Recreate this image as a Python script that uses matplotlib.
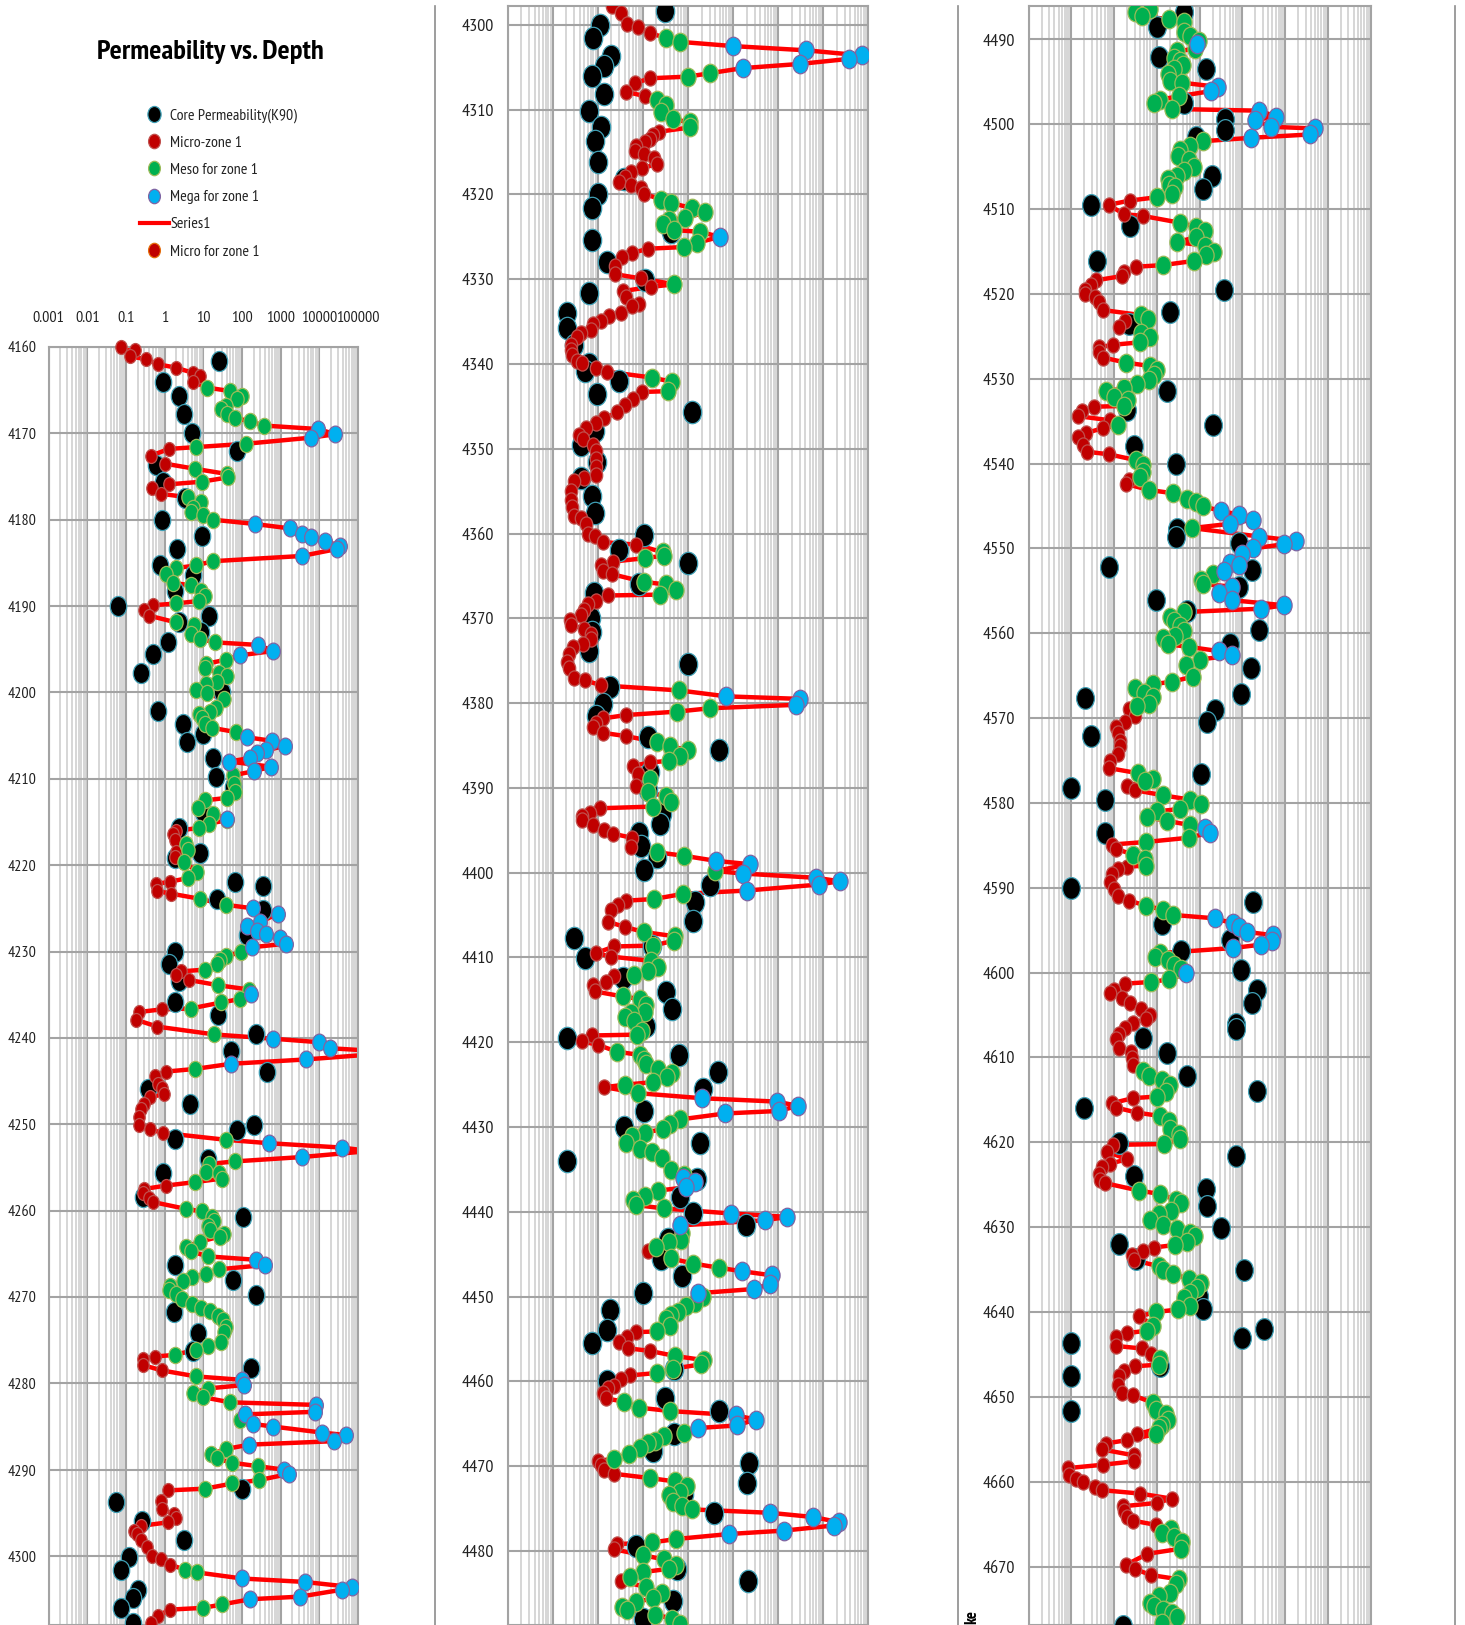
import numpy as np
from matplotlib import pyplot as plt
from matplotlib.lines import Line2D
from matplotlib.markers import MarkerStyle
from matplotlib.ticker import LogLocator, MultipleLocator, NullFormatter, NullLocator
from matplotlib.transforms import Affine2D

W, H = 1465, 1625
NARROW = ['PT Sans Narrow', 'Liberation Sans', 'DejaVu Sans']

x_ticks = [0.001, 0.01, 0.1, 1, 10, 100, 1000, 10000, 100000]
x_tick_labels = ['0.001', '0.01', '0.1', '1', '10', '100', '1000', '10000', '100000']

# (depth, permeability)
core1 = [(4161.6,25),(4164.1,.91),(4165.7,2.4),(4167.8,3.2),(4170,5.2),(4172,74),(4173.7,.58),(4175.6,.89),(4177.5,3.3),
         (4180,.84),(4181.9,9.4),(4183.4,2.1),(4185.2,.76),(4186.4,5.5),(4188.3,1.8),(4190,.063),(4191.2,14),(4191.9,2.4),
         (4193,8.5),(4194.2,1.2),(4195.6,.49),(4197.7,.24),(4200,31),(4202.1,.68),(4203.6,2.9),(4205.7,3.7),(4204.8,10),
         (4207.6,18),(4209.8,21),(4211,60),(4213.8,10),(4215.7,2.4),(4218.6,8),(4219.2,1.8),(4222,67),(4222.4,340),
         (4223.9,22),(4225.2,350),(4228.1,138),(4230,1.9),(4231.5,1.3),(4233.4,2.3),(4235.9,1.9),(4237.4,24),(4239.6,235),
         (4241.5,52),(4244,450),(4245.9,.38),(4247.7,4.5),(4250.7,76),(4250.1,210),(4251.7,1.8),(4254,13),(4255.6,.91),
         (4258.4,.28),(4260.7,108),(4266.3,1.8),(4268,59),(4269.8,225),(4271.7,1.7),(4274.2,7.3),(4276.2,5.5),(4278.2,175),
         (4292.2,102),(4293.7,.054),(4296,.26),(4298.1,3.2),(4300.1,.12),(4301.6,.076),(4303.9,.2),(4304.9,.15),(4306,.076),
         (4307.7,.15)]
micro1 = [(4160,.073),(4160.4,.17),(4161.1,.13),(4161.4,.32),(4162,.67),(4162.4,2),(4163,5.4),(4163.4,8.2),(4164,5.3),
          (4171.8,1.3),(4172.6,.43),(4173.5,1),(4175.9,1.3),(4176.3,.47),(4177,.8),(4189.9,.49),(4190.5,.29),(4191.1,.39),
          (4216,2),(4216.4,1.6),(4217.1,1.9),(4218.5,2),(4219.1,1.9),(4221.9,1.4),(4222.2,.59),(4223,.63),(4223.3,1.5),
          (4232.3,2.6),(4232.7,2),(4233.3,4.3),(4236.7,.83),(4237,.22),(4237.9,.18),(4238.7,.65),(4243.9,1.1),(4244.4,.55),
          (4245.3,.67),(4245.8,.87),(4246.5,.94),(4246.9,.41),(4247.6,.29),(4248.2,.24),(4249.2,.22),(4250.1,.22),(4250.6,.41),
          (4251,.91),(4257.1,1.1),(4257.5,.29),(4258,.27),(4258.5,.4),(4259,.49),(4276.9,.55),(4277.2,.28),(4277.9,.28),
          (4278.5,.83),(4292.4,1.2),(4293.6,.81),(4294.6,.85),(4295.1,1.7),(4295.6,2),(4296.1,1.2),(4296.5,.25),(4297.1,.16),
          (4297.4,.19),(4298.2,.25),(4299,.34),(4300,.46),(4300.4,.8),(4301,1.4),(4306.2,1.4),(4306.9,.67),(4307.7,.43)]
meso1 = [(4164.7,12.5),(4165.1,49),(4165.7,100),(4166,73),(4166.8,39),(4167.2,28),(4167.8,40),(4168.2,65),(4168.6,160),
         (4169.1,380),(4171.2,130),(4171.6,6.3),(4174.1,6),(4174.7,40),(4175.1,43),(4175.6,9),(4177.4,4),(4178,8.5),(4178.6,5.5),
         (4179.1,4.9),(4179.4,9.8),(4180,18),(4184.8,18),(4185.3,6.3),(4185.6,2),(4186.3,1.1),(4187.3,1.6),(4187.6,4.7),
         (4188.3,8.5),(4188.8,11),(4189.4,7.8),(4189.7,2),(4191.9,2),(4192.2,5.7),(4193.2,4.9),(4193.8,8.2),(4194.2,20),
         (4196.2,39),(4196.7,11.5),(4197.2,11),(4197.7,25),(4198.1,42),(4198.8,22),(4199,11.5),(4199.7,6.3),(4200.1,12.6),
         (4200.8,34),(4201.8,21),(4202.3,15),(4202.5,7.8),(4203,9.3),(4203.6,11),(4204.1,17),(4204.6,71),(4209.6,59),
         (4210.6,62),(4211.5,67),(4212.2,42),(4212.5,11),(4213.4,7.3),(4214.1,18),(4214.8,40),(4215.2,14),(4215.7,7.8),
         (4217.6,3.5),(4218.3,4),(4219.6,3.2),(4220.8,7),(4221.5,4),(4223.9,8.2),(4224.6,39),(4230.1,96),(4230.5,39),(4231,27),
         (4231.5,23),(4232.1,11),(4233.9,24),(4234.4,150),(4235.5,89),(4235.9,29),(4236.6,4.7),(4239.6,19),(4243.6,6),
         (4251.8,38),(4254.3,67),(4254.6,14),(4255.5,12),(4255.7,26),(4256.3,30),(4256.7,6),(4259.8,3.5),(4260.1,9),(4260.7,17),
         (4261.2,19),(4261.8,13),(4262.3,15),(4262.7,35),(4263,27),(4263.6,8.2),(4264.2,3.5),(4264.7,4.7),(4265.3,13),
         (4266.8,25),(4267.3,12),(4267.7,5.1),(4268.2,2.9),(4268.7,1.4),(4269.2,1.3),(4269.6,2),(4270.2,2.8),(4270.8,5),
         (4271.3,8.5),(4271.6,15),(4272.2,24),(4272.7,33),(4273.5,39),(4274,35),(4275.2,28),(4275.7,13),(4276.1,6.3),(4276.7,1.9),
         (4279.2,6.5),(4280.6,13),(4281.1,5.4),(4281.6,9.8),(4282.2,49),(4284.3,89),(4287.6,39),(4288.2,16),(4288.7,22),
         (4289.2,56),(4289.6,257),(4291.2,280),(4291.6,56),(4292.2,11),(4301.6,3.4),(4301.9,7),(4305.6,31),(4306,10)]
mega1 = [(4169.5,9300),(4170.1,26000),(4170.5,6000),(4180.5,220),(4181,1700),(4181.6,3600),(4182,6000),(4182.5,14000),
         (4183,34000),(4183.4,28000),(4184.2,3500),(4194.5,260),(4195.2,650),(4195.7,89),(4205.2,138),(4205.6,590),(4206.2,1260),
         (4206.7,420),(4207,245),(4207.6,160),(4208,46),(4208.6,570),(4209.1,210),(4214.6,42),(4225,195),(4225.6,870),
         (4226.6,290),(4227.1,138),(4227.6,250),(4228,410),(4228.4,960),(4229.1,1350),(4229.5,185),(4234.9,166),(4240.1,650),
         (4240.5,9800),(4241.2,19000),(4241.5,250000),(4241.9,250000),(4242.5,4400),(4243,52),(4252.2,510),(4252.7,38000),
         (4253.1,200000),(4253.8,3500),(4265.7,235),(4266.3,390),(4279.6,100),(4280.2,110),(4282.5,8000),(4283.3,7600),
         (4283.6,117),(4284.7,190),(4285,620),(4285.7,11500),(4286,50000),(4286.7,24000),(4287.1,155),(4290,1230),(4290.5,1600),
         (4302.6,100),(4303,4200),(4303.6,71000),(4303.9,38000),(4304.7,3200),(4305,165)]

core2 = [(4298.4,3.1),(4300,.11),(4301.5,.078),(4303.7,.2),(4304.8,.14),(4306,.076),(4308.1,.14),(4310.2,.063),(4312,.12),
         (4313.7,.085),(4316.2,.1),(4318.2,.39),(4320,.1),(4321.6,.076),(4324.4,4.3),(4325.4,.076),(4328,.16),(4330.1,1.1),
         (4331.6,.063),(4334,.021),(4335.7,.021),(4337.7,.03),(4340,.063),(4340.8,.051),(4342,.3),(4343.5,.094),(4345.7,12),
         (4347.9,.085),(4349.6,.042),(4351.6,.094),(4353.5,.042),(4355.6,.076),(4357.6,.085),(4360.2,1.05),(4361.9,.3),
         (4363.5,10),(4366,.81),(4367,.082),(4369.9,.069),(4371.6,.076),(4373.8,.063),(4375.4,10),(4378.1,.19),(4380.1,.13),
         (4381.5,.093),(4384,1.3),(4385.5,49),(4388.1,1.4),(4390.2,1.3),(4393.1,2.6),(4394.3,2.4),(4395.3,.83),(4396.8,.92),
         (4398.1,2.1),(4399.7,1.05),(4401.5,30),(4403.5,14),(4405.7,13),(4407.7,.03),(4408.6,1.6),(4410.1,.052),(4412.4,.36),
         (4414.1,3.3),(4416.1,4.5),(4418.1,1.15),(4419.5,.021),(4421.5,6.4),(4423.5,46),(4425.5,21),(4428.1,1.05),(4430,.38),
         (4431.9,18),(4434,.021),(4436.1,15.5),(4438.2,6.6),(4440.1,13),(4441.6,195),(4443.2,3.6),(4445.6,2.5),(4447.6,7.5),
         (4449.6,.98),(4451.6,.19),(4453.9,.16),(4455.5,.076),(4458.5,4.9),(4459.9,.16),(4462,3.1),(4463.5,49),(4466.2,5),
         (4468.2,1.7),(4469.6,230),(4472,200),(4473.3,8.1),(4475.5,37),(4479.4,.69),(4482.1,5.6),(4483.5,215),(4485.9,4.7),(4488,1)]
micro2 = [(4297.8,.21),(4298.6,.32),(4299.9,.45),(4300.3,.78),(4301,1.4),(4306.3,1.4),(4306.9,.66),(4307.9,.43),(4308.4,1.1),
          (4312.6,2.3),(4313,1.7),(4313.5,1.4),(4313.8,1.1),(4314.3,.69),(4314.9,.66),(4315.2,1.05),(4315.7,1.8),(4316.4,2.1),
          (4316.9,.95),(4317.3,.54),(4317.9,.4),(4318.5,.29),(4318.9,.54),(4319.2,.89),(4319.9,1.05),(4326.4,1.3),(4326.9,.58),
          (4327.4,.35),(4328.4,.24),(4329.4,.24),(4329.9,.89),(4330.9,1.5),(4331.4,.36),(4332.1,.42),(4332.9,.83),(4333.2,.56),
          (4334,.32),(4334.3,.18),(4334.9,.12),(4335.3,.078),(4336,.069),(4336.4,.043),(4336.8,.034),(4337.7,.026),(4338.3,.025),
          (4338.9,.027),(4339.7,.034),(4339.9,.045),(4340.5,.089),(4340.9,.16),(4343.3,.93),(4344.1,.6),(4344.8,.4),(4345.7,.27),
          (4346.4,.14),(4346.9,.089),(4347.5,.055),(4348.4,.038),(4348.9,.047),(4349.5,.078),(4350.3,.093),(4351.2,.089),
          (4352.2,.093),(4353.1,.089),(4353.4,.049),(4353.8,.03),(4355,.026),(4356,.026),(4356.9,.027),(4357.9,.03),(4358.2,.042),
          (4358.9,.054),(4360,.059),(4360.3,.085),(4361,.13),(4361.3,.69),(4363.3,.22),(4363.7,.12),(4364.4,.13),(4364.8,.21),
          (4367.3,.17),(4368,.093),(4368.3,.059),(4369,.049),(4369.6,.042),(4370.2,.024),(4370.8,.026),(4371.2,.049),(4371.8,.071),
          (4372.4,.069),(4373,.047),(4373.4,.028),(4374.2,.023),(4375.2,.021),(4375.9,.023),(4377,.029),(4377.3,.051),(4377.9,.12),
          (4381.4,.43),(4381.8,.13),(4382.3,.089),(4382.8,.079),(4383.5,.13),(4383.9,.43),(4387,1.4),(4387.4,.61),(4388.4,.78),
          (4389.8,.69),(4392.4,.11),(4392.9,.066),(4393.3,.044),(4393.8,.044),(4394.4,.08),(4395,.14),(4395.4,.22),(4395.9,.58),
          (4397,.55),(4403.3,.43),(4403.8,.28),(4404.4,.2),(4405.8,.17),(4406.4,.4),(4408.7,.23),(4409.5,.089),(4409.9,.2),
          (4412.2,.23),(4412.9,.15),(4413.3,.079),(4414,.085),(4419.2,.076),(4419.9,.044),(4420.3,.1),(4425.3,.14),(4444.6,1.3),
          (4454.2,.69),(4454.8,.45),(4455.3,.29),(4456.1,.47),(4456.4,1.4),(4459.3,.51),(4459.7,.33),(4460.5,.23),(4460.8,.17),
          (4461.4,.13),(4462,.15),(4469.4,.1),(4469.9,.12),(4470.5,.14),(4470.9,.23),(4479.2,.26),(4479.8,.23),(4483.5,.32)]
meso2 = [(4301.5,3.3),(4302,6.7),(4305.7,31),(4306.1,10),(4308.9,2.1),(4309.4,3.3),(4310.3,2.5),(4311.1,4.6),(4311.5,11),
         (4312.1,11),(4320.6,2.5),(4321,4.2),(4321.6,12),(4322.1,24),(4322.8,8.8),(4323,3.7),(4323.5,2.8),(4324.2,5),(4324.4,18),
         (4325.7,16),(4326.2,8.1),(4330.6,5),(4341.6,1.6),(4342.1,4.5),(4343.2,3.6),(4362.2,2.8),(4362.6,2.9),(4362.9,1.1),
         (4365.7,1.05),(4366,3.2),(4366.7,5.3),(4367.2,2.4),(4378.5,6.4),(4380.6,31),(4381,5.7),(4384.6,2.1),(4385.1,4),(4385.5,9.8),
         (4386.2,6.6),(4386.8,3.8),(4388.9,1.4),(4390.5,1.3),(4391,3.3),(4391.7,4.2),(4392.2,1.7),(4397.6,2.1),(4398,8.1),
         (4399.8,40),(4402.5,7.6),(4403.1,1.8),(4407,1.05),(4407.5,5.1),(4408,5),(4408.6,1.7),(4410.4,1.5),(4411.1,2.2),(4411.6,1.3),
         (4412.1,.64),(4414.6,.36),(4414.9,.85),(4415.6,1.2),(4416.4,1.1),(4416.6,.55),(4417,.4),(4417.5,.63),(4418.7,.97),
         (4419.1,.75),(4421.1,.26),(4421.5,.85),(4422.1,1.05),(4422.6,1.2),(4423.2,2.2),(4423.6,4.5),(4424.1,3.5),(4424.7,1.7),
         (4425,.4),(4426,.78),(4429.1,6.8),(4429.6,4),(4430.2,2.8),(4430.7,1.1),(4431.1,.58),(4431.9,.43),(4432.6,.85),(4433,1.6),
         (4433.6,2.6),(4435.1,4.1),(4435.6,8.1),(4437.5,2.2),(4438.1,1.1),(4438.6,.61),(4439.2,.69),(4439.6,2.9),(4442.5,7.5),
         (4443.3,7.1),(4443.6,3.7),(4444.1,2),(4445.5,4.2),(4446.1,13),(4446.6,49),(4450,21),(4450.7,14),(4451.1,9.1),(4451.8,6),
         (4452.2,4.1),(4452.6,3.2),(4453.5,3.9),(4454.1,2.1),(4457,5.1),(4457.5,23),(4458,19),(4458.5,4.7),(4459,2.1),(4462.4,.38),
         (4463.1,.83),(4463.5,4),(4466.1,8.1),(4466.5,3),(4467,1.9),(4467.3,1.3),(4467.9,.85),(4468.6,.5),(4469.1,.23),(4471.4,1.4),
         (4471.8,5.1),(4472.3,9.3),(4473.1,6.8),(4473.4,3.8),(4474.2,4.7),(4474.7,7.5),(4475.1,12),(4478.6,5.3),(4479,1.6),
         (4480.5,.98),(4481,3),(4481.6,5.3),(4482.1,3.8),(4482.5,1),(4483.1,.51),(4484.3,1.2),(4485,2.6),(4485.6,1.7),(4486,.72),
         (4486.6,.35),(4487,.45),(4487.5,1.9),(4488,4.5),(4488.6,6.5)]
mega2 = [(4302.5,100),(4303,4200),(4303.6,71000),(4304,38000),(4304.6,3100),(4305.1,162),(4325,51),(4379.2,71),(4379.5,3100),
         (4380.2,2500),(4398.6,41),(4399,235),(4400.1,166),(4400.6,6800),(4401,23000),(4401.4,8000),(4402.1,205),(4426.6,20),
         (4427,930),(4427.5,2750),(4428.1,1050),(4428.4,66),(4436,7.7),(4436.5,14),(4437.1,9.1),(4440.2,91),(4440.6,1600),(4441,500),
         (4441.6,6.7),(4447,155),(4447.5,740),(4448.5,650),(4449.1,295),(4449.6,17),(4464,115),(4464.5,315),(4465.2,120),(4465.5,17),
         (4475.5,650),(4476,6000),(4476.6,22000),(4477,17000),(4477.6,1350),(4478,83)]

core3 = [(4486.8,4.4),(4488.5,1),(4492.1,1.1),(4493.5,14),(4497.5,4.2),(4499.4,40),(4500.7,40),(4501.5,8.3),(4506.1,19),(4507.6,12),
         (4509.5,.029),(4512,.24),(4516.1,.04),(4519.5,37),(4522.1,2),(4523.5,.22),(4531.5,1.7),(4533.7,.2),(4535.5,20),(4537.9,.29),
         (4540,2.8),(4547.7,2.9),(4548.7,2.8),(4549.3,81),(4552.2,.074),(4552.6,166),(4554.6,81),(4556.1,.96),(4557.4,5),(4559.6,240),
         (4561.3,50),(4564.1,158),(4567.2,92),(4567.6,.021),(4569.1,23),(4570.4,15),(4572.1,.029),(4576.6,11),(4578.2,.01),(4579.7,.06),
         (4583.5,.06),(4590,.01),(4591.7,178),(4594.3,1.3),(4596.2,50),(4597.5,3.6),(4599.7,92),(4602,218),(4603.6,170),(4606.1,69),
         (4606.7,69),(4607.7,.46),(4609.5,1.7),(4612.2,5.1),(4614,224),(4616,.02),(4620.1,.13),(4621.6,71),(4624,.29),(4625.5,14),
         (4627.5,15),(4630.1,31),(4632,.13),(4633.7,.33),(4635.1,110),(4638.1,9.8),(4639.6,12),(4642,320),(4643.1,97),(4643.7,.01),
         (4646.4,1.15),(4647.5,.01),(4651.7,.01),(4677,.16)]
micro3 = [(4509,.23),(4509.5,.074),(4510.6,.17),(4510.8,.46),(4516.8,.32),(4517.4,.17),(4517.9,.15),(4518.4,.037),(4518.9,.028),
          (4519.5,.021),(4520,.021),(4520.4,.035),(4521,.045),(4521.9,.055),(4523.2,.18),(4523.9,.13),(4526,.092),(4526.3,.044),
          (4526.9,.044),(4527.5,.055),(4533.3,.033),(4533.8,.018),(4534.4,.014),(4534.9,.081),(4535.8,.056),(4536.4,.022),(4536.9,.014),
          (4537.8,.019),(4538.6,.023),(4538.9,.074),(4541.9,.22),(4542.4,.19),(4568.9,.22),(4569.7,.3),(4570.5,.18),(4571,.11),
          (4571.8,.12),(4572.7,.14),(4573.3,.14),(4574.2,.12),(4575,.081),(4575.9,.077),(4578,.2),(4578.5,.31),(4584.9,.089),(4585.4,.11),
          (4587.5,.2),(4587.8,.12),(4588.4,.089),(4589.3,.081),(4590.1,.1),(4591,.12),(4591.5,.22),(4601.3,.18),(4602,.1),(4602.4,.081),
          (4603,.15),(4603.6,.24),(4604.3,.43),(4605,.67),(4605.5,.55),(4605.9,.28),(4606.5,.18),(4607.2,.13),(4607.8,.11),(4608.9,.13),
          (4609.4,.25),(4610.1,.26),(4610.9,.27),(4614.8,.27),(4615.4,.087),(4615.9,.11),(4616.5,.34),(4620.3,.094),(4621.1,.068),
          (4622,.2),(4622.5,.081),(4622.9,.052),(4623.7,.043),(4624.5,.046),(4624.8,.06),(4632.4,.85),(4632.8,.46),(4633.3,.26),
          (4633.9,.29),(4640.5,.39),(4642.5,.2),(4642.9,.11),(4644,.11),(4644.3,.44),(4645,.71),(4646.4,.31),(4647,.17),(4647.5,.13),
          (4648.6,.12),(4649.5,.15),(4649.8,.27),(4654.4,.35),(4655.1,.2),(4655.5,.064),(4656.2,.052),(4656.9,.29),(4657.6,.29),
          (4658,.055),(4658.4,.0083),(4659.2,.0089),(4659.7,.013),(4660,.019),(4660.6,.035),(4661,.052),(4661.4,.4),(4662,2.2),
          (4662.5,1),(4662.9,.16),(4663.5,.17),(4664.2,.2),(4664.6,.28),(4665.1,.96),(4668.5,.6),(4669.8,.19),(4670.3,.31),(4671,.71)]
meso3 = [(4486.4,.7),(4486.8,.31),(4487.3,.45),(4487.6,1.9),(4488,4.4),(4489.1,4.4),(4489.6,6),(4490.2,9.4),(4491.1,7.9),(4491.4,2.9),
         (4492.2,2.5),(4492.5,3.5),(4493,4.1),(4493.5,2.5),(4494.1,1.8),(4494.9,2),(4495.1,3.8),(4496.7,3.2),(4497.1,1.2),(4497.5,.85),
         (4498.2,2.3),(4502,12),(4502.6,5.9),(4503,3.5),(4503.7,3.1),(4504.2,5.5),(4505,7.5),(4505.5,4.4),(4506.1,2.9),(4506.4,1.8),
         (4507.2,1.9),(4507.4,2.7),(4508.2,2.3),(4508.6,1),(4511.6,3.4),(4512.1,8.3),(4512.6,13),(4513.3,8.3),(4513.9,2.9),(4514.3,13),
         (4515.1,22),(4515.4,14),(4516.1,7.5),(4516.6,1.4),(4522.5,.43),(4523,.62),(4524.6,.43),(4525.1,.67),(4525.7,.41),(4528.1,.19),
         (4528.5,.7),(4529,1),(4529.5,.87),(4530.2,.64),(4530.6,.35),(4531.1,.17),(4531.5,.065),(4532.1,.1),(4532.5,.21),(4533.2,.17),
         (4535.5,.12),(4539.6,.33),(4540.2,.47),(4541,.47),(4541.6,.41),(4543.1,.64),(4543.5,2.4),(4544.2,5),(4544.5,8.3),(4545,12),
         (4547.6,6.6),(4553,20),(4553.7,11),(4554.2,12),(4557.5,4.4),(4558.1,2),(4558.6,2.5),(4559.2,3.5),(4559.7,4.4),(4560.3,2.6),
         (4560.6,1.4),(4561.3,1.8),(4561.6,5.5),(4563.1,10),(4563.7,4.9),(4565.1,7),(4565.7,2.3),(4566,.81),(4566.5,.3),(4567,.5),
         (4567.5,.81),(4568.3,.64),(4568.6,.34),(4576.5,.37),(4577.2,.81),(4577.4,.52),(4579.1,1.4),(4579.6,5.8),(4580.1,11),(4580.7,3.5),
         (4581,1),(4581.7,.6),(4582.1,1.7),(4582.6,5.8),(4584.1,5.5),(4584.6,.55),(4586.1,.28),(4586.6,.53),(4587.4,.55),(4592.1,.55),
         (4592.6,1.4),(4593.2,2.4),(4597.7,1.2),(4598.1,.88),(4598.5,1.8),(4599.1,2.5),(4599.6,3.6),(4600.8,1.9),(4601.1,.71),(4611.6,.46),
         (4612.2,.64),(4612.6,1.3),(4613.2,2),(4614.1,1.6),(4614.6,1),(4616.9,1.2),(4617.5,1.9),(4618.4,2),(4619,3.2),(4619.6,3.5),
         (4620.2,1.5),(4625.7,.39),(4626.1,1.2),(4626.8,2.8),(4627.2,3.6),(4628.1,2.1),(4628.5,1.1),(4629.2,.7),(4629.7,1.4),(4630.2,3),
         (4630.7,5.8),(4631,7.9),(4631.7,5),(4632.1,2.6),(4634.6,1.1),(4635.1,1.4),(4635.5,2.4),(4636.1,5.5),(4636.6,11),(4637.2,8.7),
         (4637.8,6),(4638.4,4.4),(4639.3,6),(4639.7,3.1),(4640,.96),(4641.6,.81),(4642.2,.57),(4645.5,1.2),(4646.2,1.1),(4650.7,.81),
         (4651.5,.95),(4652,1.6),(4652.7,1.8),(4653.3,1.3),(4653.7,1.1),(4654.4,.95),(4665.6,2.1),(4666.1,1.3),(4666.5,2.5),(4667.1,3.8),
         (4667.9,3.6),(4671.5,3.2),(4672.1,2.8),(4673.1,2),(4673.5,1.1),(4674.3,.67),(4674.7,.84),(4675.1,1.4),(4675.5,2.2),(4675.9,2.9),
         (4676.7,1.3)]
mega3 = [(4490.5,8.8),(4495.6,27),(4496.1,18),(4498.4,245),(4499.1,620),(4499.5,200),(4500.3,460),(4500.5,4900),(4501.2,3900),(4501.6,158),
         (4545.6,31),(4546,85),(4546.6,175),(4547.1,50),(4548.6,250),(4549.1,1750),(4549.5,950),(4550,175),(4550.6,100),(4551.7,50),
         (4552,81),(4552.7,37),(4554.5,57),(4555.2,28),(4556.1,57),(4556.7,950),(4557.1,270),(4562.1,28),(4562.6,57),(4583,13),(4583.5,17),
         (4593.6,23),(4594.2,60),(4594.6,85),(4595.2,130),(4595.6,530),(4596.3,490),(4596.7,270),(4597.1,60),(4600.1,4.9)]

legend_labels = ['Core Permeability(K90)', 'Micro-zone 1', 'Meso for zone 1', 'Mega for zone 1', 'Series1', 'Micro for zone 1']

BLACK = ('#000000', '#3f9fb5')
RED = ('#c00000', '#c0504d')
GREEN = ('#00b050', '#9bbb59')
BLUE = ('#00b0f0', '#8064a2')
LINE = '#ff0000'
oval = MarkerStyle('o', transform=Affine2D().scale(1, 1.22))


def add_panel(left, right, top, bottom, y_top, y_bottom):
    ax = fig.add_axes([left / W, 1 - bottom / H, (right - left) / W, (bottom - top) / H])
    ax.set_xscale('log')
    ax.set_xlim(0.001, 100000)
    ax.set_ylim(y_bottom, y_top)
    ax.xaxis.set_major_locator(LogLocator(base=10, numticks=12))
    ax.xaxis.set_minor_locator(LogLocator(base=10, subs=np.arange(2, 10), numticks=12))
    ax.xaxis.set_minor_formatter(NullFormatter())
    ax.yaxis.set_major_locator(MultipleLocator(10))
    ax.yaxis.set_minor_locator(NullLocator())
    ax.grid(True, which='minor', axis='x', color='#d0d0d0', lw=1.2, zorder=0)
    ax.grid(True, which='major', axis='both', color='#a3a3a3', lw=1.5, zorder=0.5)
    ax.set_axisbelow(True)
    for s in ax.spines.values():
        s.set_color('#a3a3a3')
        s.set_linewidth(1.5)
    ax.tick_params(which='both', length=0)
    return ax


def draw(ax, core, micro, meso, mega, sizes, clip_micro=True):
    model = np.array(sorted(micro + meso + mega))
    ax.plot(model[:, 1], model[:, 0], color=LINE, lw=3.2, zorder=2, solid_joinstyle='round')
    for pts, (fc, ec), s, z in zip((core, micro, meso, mega), (BLACK, RED, GREEN, BLUE), sizes, (3, 4, 5, 6)):
        d, k = np.array(pts).T
        clip = clip_micro or pts is not micro
        ax.scatter(k, d, s=s, marker=oval, facecolor=fc, edgecolor=ec, linewidth=0.9, zorder=z, clip_on=clip)


fig = plt.figure(figsize=(W / 100, H / 100), dpi=100)

ax1 = add_panel(48.7, 358, 347, H, 4160, 4160 + (H - 347) / 8.636)
draw(ax1, core1, micro1, meso1, mega1, (140, 68, 92, 98), clip_micro=False)
ax1.xaxis.tick_top()
ax1.set_xticks(x_ticks)
ax1.set_xticklabels(x_tick_labels, family=NARROW, fontsize=11.5, color='#222222')
ax1.tick_params(axis='x', which='major', pad=16)
ax1.tick_params(axis='y', pad=9)
for t in ax1.get_yticklabels():
    t.set_family(NARROW)
    t.set_fontsize(11.5)
    t.set_color('#222222')

ax2 = add_panel(507.7, 868.3, 6, H, 4300 - (24.9 - 6) / 8.478, 4300 + (H - 24.9) / 8.478)
draw(ax2, core2, micro2, meso2, mega2, (175, 80, 120, 120))
ax3 = add_panel(1028.7, 1370.7, 6, H, 4490 - (39.4 - 6) / 8.484, 4490 + (H - 39.4) / 8.484)
draw(ax3, core3, micro3, meso3, mega3, (165, 80, 120, 120))
for ax in (ax2, ax3):
    ax.tick_params(axis='x', which='both', labeltop=False, labelbottom=False)
    ax.tick_params(axis='y', pad=10)
    for t in ax.get_yticklabels():
        t.set_family(NARROW)
        t.set_fontsize(13)
        t.set_color('#222222')

# panel separators
for xp, top in ((434.7, 6), (957.6, 6), (1455, 6)):
    fig.add_artist(Line2D([xp / W, xp / W], [1 - top / H, 0], color='#8c8c8c', lw=1.2))

fig.text(210 / W, 1 - 52 / H, 'Permeability vs. Depth', family=NARROW, fontweight='bold',
         fontsize=20.5, ha='center', va='center', color='black')

handles = [
    Line2D([], [], ls='', marker=oval, ms=9.5, mfc=BLACK[0], mec=BLACK[1], mew=0.9),
    Line2D([], [], ls='', marker=oval, ms=8.5, mfc=RED[0], mec=RED[1], mew=0.9),
    Line2D([], [], ls='', marker=oval, ms=8.5, mfc=GREEN[0], mec=GREEN[1], mew=0.9),
    Line2D([], [], ls='', marker=oval, ms=8.5, mfc=BLUE[0], mec=BLUE[1], mew=0.9),
    Line2D([], [], color=LINE, lw=3),
    Line2D([], [], ls='', marker=oval, ms=8.5, mfc='#c00000', mec='#e46c0a', mew=0.9),
]
fig.legend(handles, legend_labels, loc='upper left', bbox_to_anchor=(140 / W, 1 - 108 / H), frameon=False,
           prop={'family': NARROW, 'size': 11.4}, labelspacing=0.83, handlelength=1.8, handletextpad=0.1,
           borderpad=0, borderaxespad=0, labelcolor='#222222')

# clipped leftover of a rotated label at the bottom edge
fig.text(972 / W, 1 - 1610 / H, 'ke', family=NARROW, fontweight='bold', fontsize=12, rotation=90,
         ha='center', va='top', color='black')

fig.savefig('out.png', dpi=100)
